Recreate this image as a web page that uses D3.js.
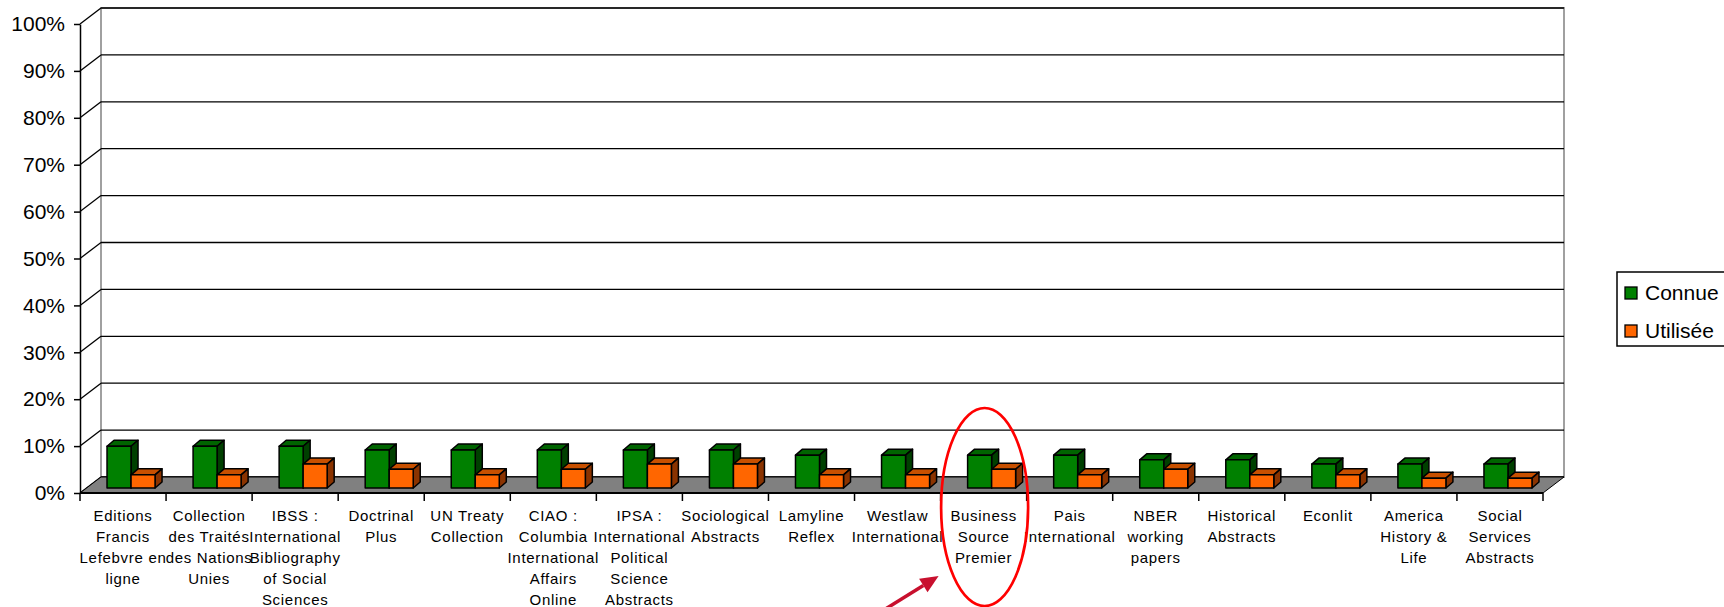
<!DOCTYPE html>
<html>
<head>
<meta charset="utf-8">
<script src="https://cdn.jsdelivr.net/npm/d3@7"></script>
<style>
  html, body { margin: 0; padding: 0; background: #fff; }
  svg { display: block; font-family: "Liberation Sans", Arial, sans-serif; }
</style>
</head>
<body>
<svg id="chart" width="1724" height="607"></svg>
<script>
// ---------- data ----------
const categories = [
  "Editions Francis Lefebvre en ligne",
  "Collection des Traités des Nations Unies",
  "IBSS : International Bibliography of Social Sciences",
  "Doctrinal Plus",
  "UN Treaty Collection",
  "CIAO : Columbia International Affairs Online",
  "IPSA : International Political Science Abstracts",
  "Sociological Abstracts",
  "Lamyline Reflex",
  "Westlaw International",
  "Business Source Premier",
  "Pais International",
  "NBER working papers",
  "Historical Abstracts",
  "Econlit",
  "America History & Life",
  "Social Services Abstracts"
];
const labelLines = [
  ["Editions", "Francis", "Lefebvre en", "ligne"],
  ["Collection", "des Traités", "des Nations", "Unies"],
  ["IBSS :", "International", "Bibliography", "of Social", "Sciences"],
  ["Doctrinal", "Plus"],
  ["UN Treaty", "Collection"],
  ["CIAO :", "Columbia", "International", "Affairs", "Online"],
  ["IPSA :", "International", "Political", "Science", "Abstracts"],
  ["Sociological", "Abstracts"],
  ["Lamyline", "Reflex"],
  ["Westlaw", "International"],
  ["Business", "Source", "Premier"],
  ["Pais", "International"],
  ["NBER", "working", "papers"],
  ["Historical", "Abstracts"],
  ["Econlit"],
  ["America", "History &", "Life"],
  ["Social", "Services", "Abstracts"]
];
const connue   = [0.089, 0.089, 0.089, 0.081, 0.081, 0.081, 0.081, 0.081, 0.070, 0.070, 0.070, 0.070, 0.060, 0.060, 0.051, 0.051, 0.051];
const utilisee = [0.028, 0.028, 0.051, 0.040, 0.028, 0.040, 0.051, 0.051, 0.028, 0.028, 0.040, 0.028, 0.040, 0.028, 0.028, 0.021, 0.021];
const seriesNames = ["Connue", "Utilisée"];
const yTicks = [0, 0.1, 0.2, 0.3, 0.4, 0.5, 0.6, 0.7, 0.8, 0.9, 1.0];
const highlighted = "Business Source Premier";

// ---------- layout ----------
const svg = d3.select("#chart");
const frontLeft = 80, frontRight = 1543;
const depthX = 21, depthY = 16;
const frontBottom = 493, frontTop = 24;

const x = d3.scaleBand().domain(categories).range([frontLeft, frontRight]).padding(0);
const yFront = d3.scaleLinear().domain([0, 1]).range([frontBottom, frontTop]);
const yBack  = d3.scaleLinear().domain([0, 1]).range([frontBottom - depthY, frontTop - depthY]);
const barBase = frontBottom - 5;
const yBar   = d3.scaleLinear().domain([0, 1]).range([barBase, barBase - (frontBottom - frontTop)]);

const bw = x.bandwidth();
const barW = bw * 0.279;
const barOff = [bw * 0.314, bw * 0.314 + barW];
const bdx = 7, bdy = 6;

const colors = [
  { front: "#008000", top: "#006400", side: "#004000" },
  { front: "#FF6600", top: "#C85000", side: "#8A3300" }
];

// back wall
svg.append("rect")
  .attr("x", frontLeft + depthX).attr("y", yBack(1))
  .attr("width", frontRight - frontLeft).attr("height", yBack(0) - yBack(1))
  .attr("fill", "#fff").attr("stroke", "#a0a0a0").attr("stroke-width", 2);

// back gridlines
svg.append("g").selectAll("line").data(yTicks).join("line")
  .attr("x1", frontLeft + depthX).attr("x2", frontRight + depthX)
  .attr("y1", d => yBack(d)).attr("y2", d => yBack(d))
  .attr("stroke", "#000").attr("stroke-width", 1.3);

// side wall diagonals
svg.append("g").selectAll("line").data(yTicks).join("line")
  .attr("x1", frontLeft).attr("x2", frontLeft + depthX)
  .attr("y1", d => yFront(d)).attr("y2", d => yBack(d))
  .attr("stroke", "#000").attr("stroke-width", 1.3);

// floor
svg.append("polygon")
  .attr("points", [
    [frontLeft, frontBottom], [frontRight, frontBottom],
    [frontRight + depthX, frontBottom - depthY], [frontLeft + depthX, frontBottom - depthY]
  ].map(p => p.join(",")).join(" "))
  .attr("fill", "#808080").attr("stroke", "#000").attr("stroke-width", 1);

// bars
const barsG = svg.append("g");
const series = [connue, utilisee];
categories.forEach((c, i) => {
  series.forEach((vals, s) => {
    const v = vals[i];
    const x0 = x(c) + barOff[s];
    const yt = yBar(v);
    const col = colors[s];
    const g = barsG.append("g").attr("stroke", "#000").attr("stroke-width", 1.5).attr("stroke-linejoin", "round");
    g.append("polygon")
      .attr("points", [[x0, yt], [x0 + bdx, yt - bdy], [x0 + barW + bdx, yt - bdy], [x0 + barW, yt]].map(p => p.join(",")).join(" "))
      .attr("fill", col.top);
    g.append("polygon")
      .attr("points", [[x0 + barW, yt], [x0 + barW + bdx, yt - bdy], [x0 + barW + bdx, barBase - bdy], [x0 + barW, barBase]].map(p => p.join(",")).join(" "))
      .attr("fill", col.side);
    g.append("rect")
      .attr("x", x0).attr("y", yt).attr("width", barW).attr("height", barBase - yt)
      .attr("fill", col.front);
  });
});

// y axis
const yAxis = d3.axisLeft(yFront).tickValues(yTicks).tickFormat(d3.format(".0%"))
  .tickSize(6).tickSizeOuter(0).tickPadding(9);
const yg = svg.append("g").attr("transform", `translate(${frontLeft},0)`).call(yAxis);
yg.select(".domain").attr("stroke", "#000").attr("stroke-width", 1.5);
yg.selectAll(".tick line").attr("stroke", "#000").attr("stroke-width", 1.5);
yg.selectAll(".tick text").attr("font-size", 21).attr("fill", "#000")
  .attr("font-family", "'Liberation Sans', Arial, sans-serif");

// x axis line + ticks
svg.append("line").attr("x1", frontLeft).attr("x2", frontRight)
  .attr("y1", frontBottom).attr("y2", frontBottom).attr("stroke", "#000").attr("stroke-width", 2);
const boundaries = categories.map(c => x(c)).concat([x(categories[categories.length - 1]) + bw]);
svg.append("g").selectAll("line").data(boundaries).join("line")
  .attr("x1", d => d).attr("x2", d => d)
  .attr("y1", frontBottom).attr("y2", frontBottom + 8)
  .attr("stroke", "#000").attr("stroke-width", 1.5);

// x labels
const lbl = svg.append("g").attr("font-size", 15).attr("fill", "#000")
  .attr("text-anchor", "middle").attr("letter-spacing", "0.7px");
categories.forEach((c, i) => {
  const t = lbl.append("text").attr("x", x(c) + bw / 2).attr("y", 521);
  labelLines[i].forEach((ln, k) => {
    t.append("tspan").attr("x", x(c) + bw / 2).attr("y", 521 + k * 21).text(ln);
  });
});

// legend
const lg = svg.append("g");
lg.append("rect").attr("x", 1617).attr("y", 272).attr("width", 140).attr("height", 74)
  .attr("fill", "#fff").attr("stroke", "#000").attr("stroke-width", 1.5);
seriesNames.forEach((n, s) => {
  const yy = 287 + s * 38;
  lg.append("rect").attr("x", 1625).attr("y", yy).attr("width", 12).attr("height", 12)
    .attr("fill", colors[s].front).attr("stroke", "#000").attr("stroke-width", 1.3);
  lg.append("text").attr("x", 1645).attr("y", yy + 12.5).attr("font-size", 21).attr("fill", "#000").text(n);
});

// annotation: ellipse + arrow
const cx = x(highlighted) + bw / 2 + 1;
svg.append("ellipse").attr("cx", cx).attr("cy", 507).attr("rx", 43.5).attr("ry", 99)
  .attr("fill", "none").attr("stroke", "#FF0000").attr("stroke-width", 2.7);
const tip = [cx - 46, 576], tail = [cx - 104, 612];
const ang = Math.atan2(tip[1] - tail[1], tip[0] - tail[0]);
const hl = 18, hw = 8;
const base = [tip[0] - hl * Math.cos(ang), tip[1] - hl * Math.sin(ang)];
svg.append("line").attr("x1", tail[0]).attr("y1", tail[1]).attr("x2", base[0]).attr("y2", base[1])
  .attr("stroke", "#C8102E").attr("stroke-width", 3.5);
svg.append("polygon").attr("points", [
  tip,
  [base[0] + hw * Math.sin(ang), base[1] - hw * Math.cos(ang)],
  [base[0] - hw * Math.sin(ang), base[1] + hw * Math.cos(ang)]
].map(p => p.join(",")).join(" ")).attr("fill", "#C8102E");
</script>
</body>
</html>
